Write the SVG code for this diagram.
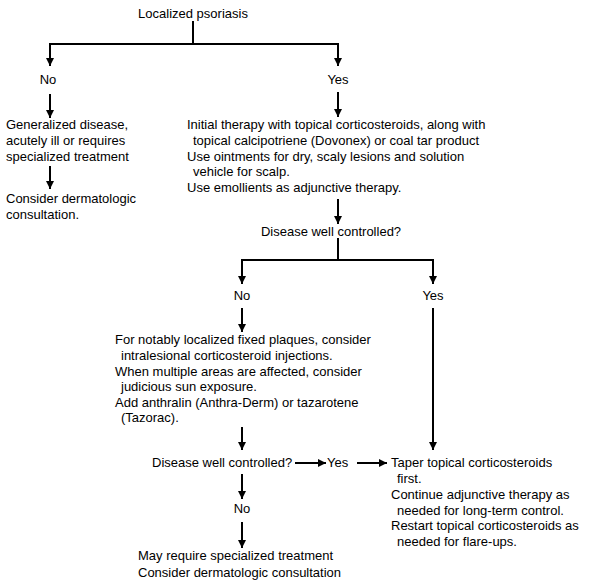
<svg xmlns="http://www.w3.org/2000/svg" width="591" height="585" viewBox="0 0 591 585">
<defs>
<marker id="ah" markerUnits="userSpaceOnUse" markerWidth="10" markerHeight="10" viewBox="0 0 10 10" refX="9" refY="5" orient="auto">
<path d="M1,1 L9,5 L1,9 Z" fill="#000"/>
</marker>
<style>
text{font-family:"Liberation Sans",Arial,sans-serif;font-size:13px;fill:#000}
.c{text-anchor:middle}
.l{fill:none;stroke:#000;stroke-width:2}
.a{fill:none;stroke:#000;stroke-width:2;marker-end:url(#ah)}
</style>
</defs>
<rect width="591" height="585" fill="#fff"/>
<g id="connectors">
<path class="l" d="M193,21 V44 M50,44 H338"/>
<path class="a" d="M50,43 V66"/>
<path class="a" d="M338,43 V66"/>
<path class="a" d="M50,94 V118"/>
<path class="a" d="M50,166 V189"/>
<path class="a" d="M338,92 V117"/>
<path class="a" d="M338,199 V224"/>
<path class="l" d="M338,238 V260 M242,260 H433"/>
<path class="a" d="M242,259 V284"/>
<path class="a" d="M433,259 V284"/>
<path class="a" d="M242,308 V332"/>
<path class="a" d="M433,308 V450"/>
<path class="a" d="M242,427 V450"/>
<path class="a" d="M295,463 H326"/>
<path class="a" d="M357,463 H387"/>
<path class="a" d="M242,474 V499"/>
<path class="a" d="M242,522 V548"/>
</g>
<g id="n-start"><text class="c" x="193" y="18">Localized psoriasis</text></g>
<g id="n-no1"><text class="c" x="48" y="84">No</text></g>
<g id="n-yes1"><text class="c" x="338" y="84">Yes</text></g>
<g id="n-general">
<text x="6" y="129">Generalized disease,</text>
<text x="6" y="145">acutely ill or requires</text>
<text x="6" y="161">specialized treatment</text>
</g>
<g id="n-consult1">
<text x="6" y="203">Consider dermatologic</text>
<text x="6" y="219">consultation.</text>
</g>
<g id="n-initial">
<text x="187" y="129">Initial therapy with topical corticosteroids, along with</text>
<text x="193" y="145">topical calcipotriene (Dovonex) or coal tar product</text>
<text x="187" y="161">Use ointments for dry, scaly lesions and solution</text>
<text x="193" y="176">vehicle for scalp.</text>
<text x="187" y="192">Use emollients as adjunctive therapy.</text>
</g>
<g id="n-q1"><text class="c" x="331" y="236">Disease well controlled?</text></g>
<g id="n-no2"><text class="c" x="242" y="300">No</text></g>
<g id="n-yes2"><text class="c" x="433" y="300">Yes</text></g>
<g id="n-plaques">
<text x="115" y="344">For notably localized fixed plaques, consider</text>
<text x="121" y="360">intralesional corticosteroid injections.</text>
<text x="115" y="376">When multiple areas are affected, consider</text>
<text x="121" y="391">judicious sun exposure.</text>
<text x="115" y="407">Add anthralin (Anthra-Derm) or tazarotene</text>
<text x="121" y="422">(Tazorac).</text>
</g>
<g id="n-q2"><text x="152" y="467">Disease well controlled?</text></g>
<g id="n-yes3"><text x="327" y="467">Yes</text></g>
<g id="n-taper">
<text x="391" y="467">Taper topical corticosteroids</text>
<text x="397" y="483">first.</text>
<text x="391" y="499">Continue adjunctive therapy as</text>
<text x="397" y="515">needed for long-term control.</text>
<text x="391" y="530">Restart topical corticosteroids as</text>
<text x="397" y="546">needed for flare-ups.</text>
</g>
<g id="n-no3"><text class="c" x="242" y="513">No</text></g>
<g id="n-special">
<text x="138" y="560">May require specialized treatment</text>
<text x="138" y="577">Consider dermatologic consultation</text>
</g>
</svg>
